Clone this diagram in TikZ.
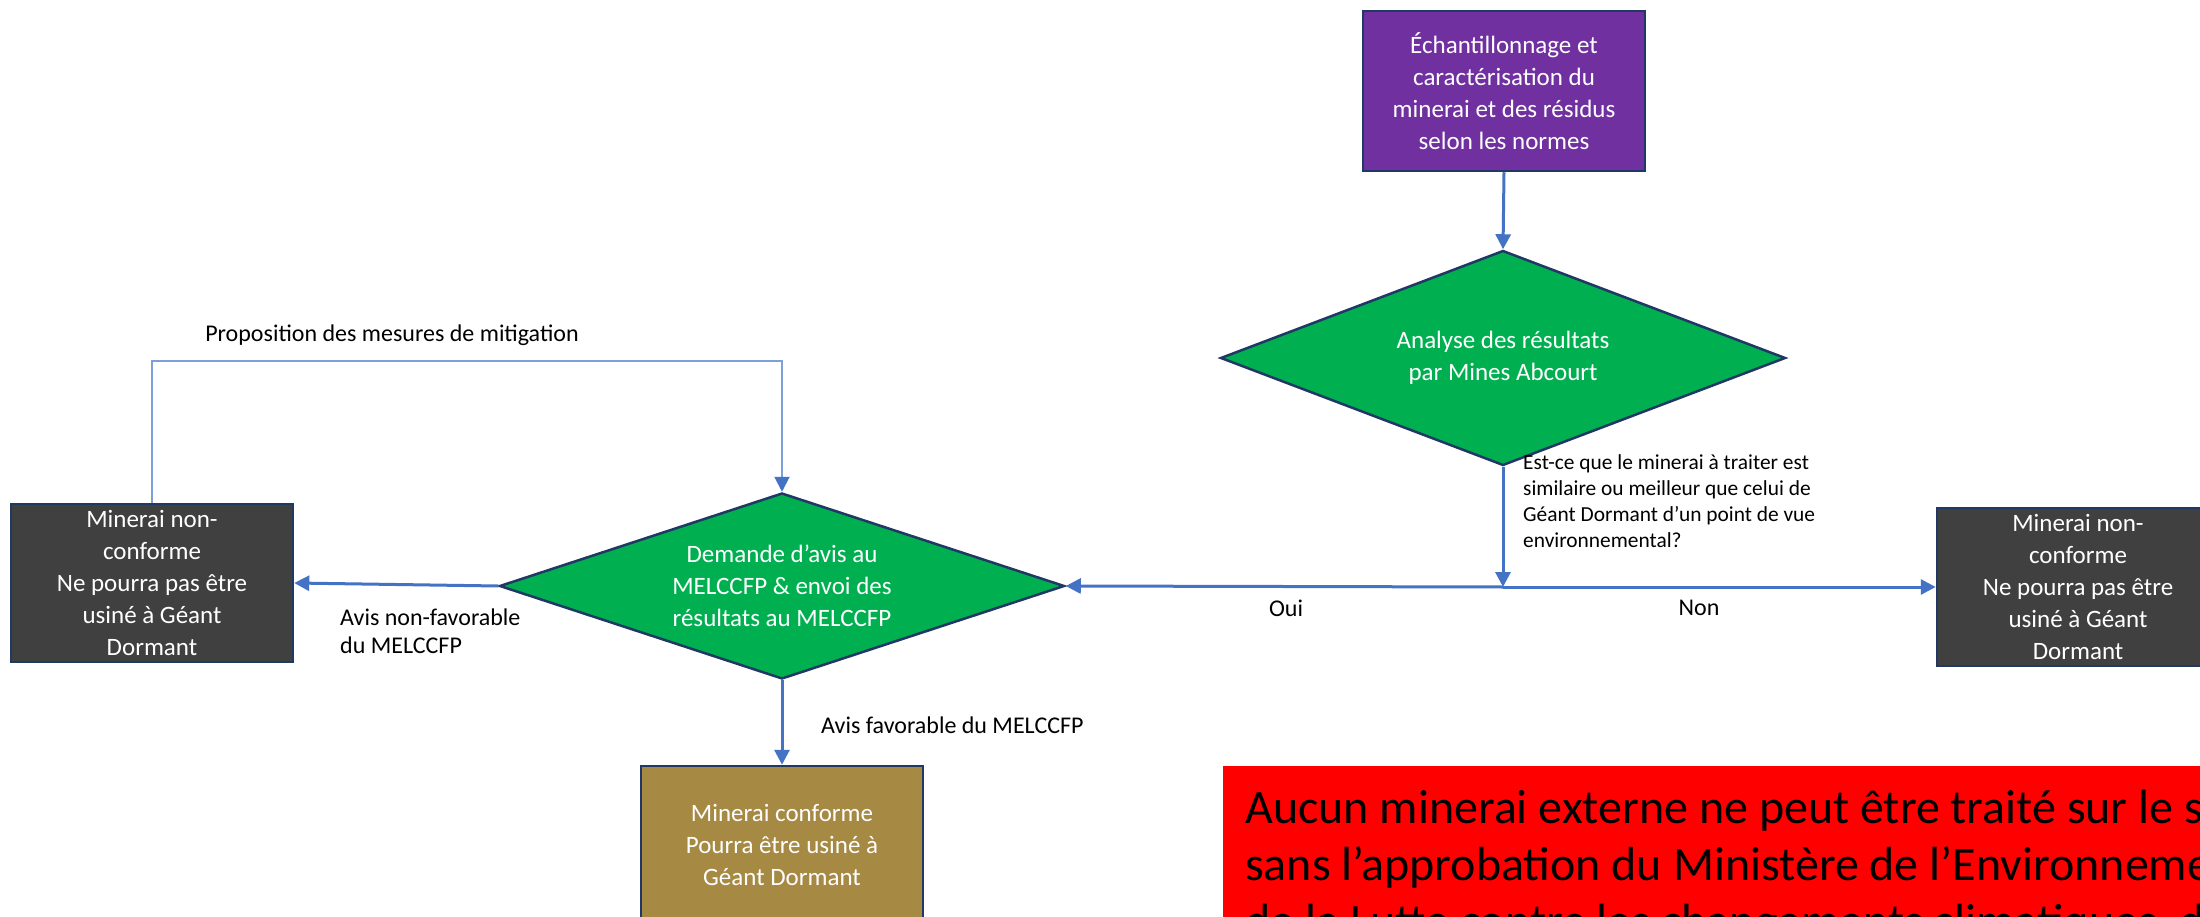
\documentclass[tikz,border=0pt]{standalone}
\usepackage{fontspec}
\setmainfont{Carlito}
\usetikzlibrary{shapes.geometric,arrows.meta}
\definecolor{navy}{HTML}{1F3864}
\definecolor{linkblue}{HTML}{4472C4}
\definecolor{fbblue}{HTML}{7F9FD8}
\definecolor{mygreen}{HTML}{00B050}
\definecolor{mypurple}{HTML}{7030A0}
\definecolor{mygray}{HTML}{404040}
\definecolor{mygold}{HTML}{A68943}
\definecolor{myred}{HTML}{FF0000}
\tikzset{
  box/.style={draw=navy, line width=2.5pt, text=white, align=center, inner sep=0pt,
    minimum width=282pt, minimum height=158pt, font=\fontsize{25}{32}\selectfont},
  dec/.style={diamond, draw=navy, line width=2.5pt, fill=mygreen, text=white, align=center,
    inner sep=0pt, font=\fontsize{25}{32}\selectfont},
  arr/.style={draw=linkblue, line width=3pt, -{Triangle[length=15pt,width=15pt]}},
  fb/.style={draw=fbblue, line width=2pt, -{Triangle[length=15pt,width=15pt,color=linkblue]}},
  lbl/.style={font=\fontsize{24}{28}\selectfont, align=left, inner sep=0pt},
  slbl/.style={font=\fontsize{21.4}{26}\selectfont, align=left, inner sep=0pt},
}
\begin{document}
\begin{tikzpicture}[x=1pt,y=-1pt]
\useasboundingbox (0,0) rectangle (2200,917);
\clip (0,0) rectangle (2200,917);
\fill[white] (0,0) rectangle (2200,917);

% nodes
\node[box, fill=mypurple, minimum height=160pt] (samp) at (1504,91)
  {Échantillonnage et\\caractérisation du\\minerai et des résidus\\selon les normes};
\node[dec, minimum width=565pt, minimum height=215pt, aspect=2.63] (ana) at (1503,358)
  {Analyse des résultats\\par Mines Abcourt};
\node[dec, minimum width=565pt, minimum height=186pt, aspect=3.04] (dem) at (782,586)
  {Demande d’avis au\\MELCCFP \& envoi des\\résultats au MELCCFP};
\node[box, fill=mygray] (nc1) at (152,583)
  {Minerai non-\\conforme\\Ne pourra pas être\\usiné à Géant\\Dormant};
\node[box, fill=mygray] (nc2) at (2078,587)
  {Minerai non-\\conforme\\Ne pourra pas être\\usiné à Géant\\Dormant};
\node[box, fill=mygold] (conf) at (782,845)
  {Minerai conforme\\Pourra être usiné à\\Géant Dormant};
\node[fill=myred, anchor=north west, minimum width=1100pt, minimum height=220pt, inner sep=0pt] (warn) at (1223,766) {};
\node[anchor=base west, align=left, inner sep=0pt, font=\fontsize{48}{57}\selectfont] (warntxt) at (1245,937)
  {Aucun minerai externe ne peut être traité sur le site\\sans l’approbation du Ministère de l’Environnement,\\de la Lutte contre les changements climatiques, de la Faune et des Parcs};

\coordinate (junc) at (1503,587);
\coordinate (fbA) at (152,361);
\coordinate (fbB) at (782,361);

% connectors
\draw[arr] (samp.south) -- (ana.north);
\draw[arr] (ana.south) -- (junc);
\draw[arr] (junc) -- (dem.east);
\draw[arr] (junc) -- (nc2.west);
\draw[arr] (dem.west) -- (nc1.east);
\draw[arr] (dem.south) -- (conf.north);
\draw[fb] (nc1.north) -- (fbA) -- (fbB) -- (dem.north);

% labels
\node[lbl, anchor=center] (lprop) at (392,335) {Proposition des mesures de mitigation};
\node[lbl, anchor=west] (lnf) at (340,631) {Avis non-favorable\\du MELCCFP};
\node[lbl, anchor=west] (lfav) at (821,725) {Avis favorable du MELCCFP};
\node[slbl, anchor=west] (lq) at (1523,501)
  {Est-ce que le minerai à traiter est\\similaire ou meilleur que celui de\\Géant Dormant d’un point de vue\\environnemental?};
\node[lbl, anchor=center] (loui) at (1286,608) {Oui};
\node[lbl, anchor=center] (lnon) at (1699,608) {Non};
\end{tikzpicture}
\end{document}
